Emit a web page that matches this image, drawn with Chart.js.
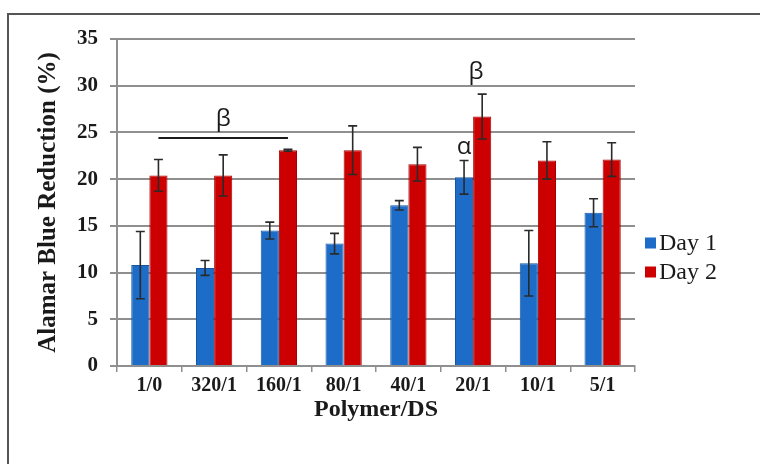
<!DOCTYPE html>
<html>
<head>
<meta charset="utf-8">
<script src="https://cdn.jsdelivr.net/npm/chart.js@4.4.1/dist/chart.umd.min.js"></script>
<style>
  html, body { margin: 0; padding: 0; background: #ffffff; }
  #wrap { width: 760px; height: 464px; position: relative; }
</style>
</head>
<body>
<div id="wrap"><canvas id="c" width="760" height="464"></canvas></div>
<script>
// Polymer/DS ratios tested
const categories = ['1/0', '320/1', '160/1', '80/1', '40/1', '20/1', '10/1', '5/1'];

// Alamar Blue reduction (%) per day, with standard deviations
const day1 = [10.8, 10.5, 14.5, 13.1, 17.2, 20.2, 11.0, 16.4];
const day1Err = [3.6, 0.8, 0.9, 1.1, 0.5, 1.8, 3.5, 1.5];
const day2 = [20.4, 20.4, 23.1, 23.1, 21.6, 26.7, 22.0, 22.1];
const day2Err = [1.7, 2.2, 0.1, 2.6, 1.8, 2.4, 2.0, 1.8];

const seriesNames = ['Day 1', 'Day 2'];
const seriesColors = ['#1c6cc8', '#cc0000'];
const seriesBorders = ['#1656a3', '#a80000'];

const yTicks = [0, 5, 10, 15, 20, 25, 30, 35];

// Significance marks: symbol, category index (or span), value
const betaSpan = { symbol: 'β', from: 0, to: 2, value: 24.4, textValue: 26.4 };
const marks = [
  { symbol: 'β', category: 5, series: -1, value: 31.5 },
  { symbol: 'α', category: 5, series: 0, value: 23.4 }
];

const serif = '"Liberation Serif", "Times New Roman", serif';
const sans = '"Open Sans", "Liberation Sans", sans-serif';
const gridGrey = '#8f8f8f';

const framePlugin = {
  id: 'frame',
  beforeDraw(chart) {
    const ctx = chart.ctx;
    ctx.save();
    ctx.fillStyle = '#ffffff';
    ctx.fillRect(0, 0, chart.width, chart.height);
    ctx.strokeStyle = '#555555';
    ctx.lineWidth = 2;
    ctx.beginPath();
    ctx.moveTo(8, chart.height);
    ctx.lineTo(8, 14);
    ctx.lineTo(chart.width, 14);
    ctx.stroke();
    ctx.restore();
  }
};

const errorBarPlugin = {
  id: 'errorBars',
  afterDatasetsDraw(chart) {
    const ctx = chart.ctx;
    const y = chart.scales.y;
    const errs = [day1Err, day2Err];
    ctx.save();
    ctx.strokeStyle = '#2a2a2a';
    ctx.lineWidth = 1.6;
    chart.data.datasets.forEach((ds, i) => {
      const meta = chart.getDatasetMeta(i);
      meta.data.forEach((bar, j) => {
        const v = ds.data[j];
        const e = errs[i][j];
        const top = y.getPixelForValue(v + e);
        const bot = y.getPixelForValue(v - e);
        const x = bar.x;
        ctx.beginPath();
        ctx.moveTo(x, top); ctx.lineTo(x, bot);
        ctx.moveTo(x - 4.5, top); ctx.lineTo(x + 4.5, top);
        ctx.moveTo(x - 4.5, bot); ctx.lineTo(x + 4.5, bot);
        ctx.stroke();
      });
    });
    ctx.restore();
  }
};

const marksPlugin = {
  id: 'marks',
  afterDatasetsDraw(chart) {
    const ctx = chart.ctx;
    const x = chart.scales.x;
    const y = chart.scales.y;
    const red = chart.getDatasetMeta(1).data;
    ctx.save();
    ctx.fillStyle = '#1a1a1a';
    ctx.strokeStyle = '#1a1a1a';
    ctx.font = '24px ' + sans;
    ctx.textAlign = 'center';
    ctx.textBaseline = 'middle';
    // bracket over the first group
    const x0 = red[betaSpan.from].x;
    const x1 = red[betaSpan.to].x;
    const ly = y.getPixelForValue(betaSpan.value);
    ctx.lineWidth = 2;
    ctx.beginPath();
    ctx.moveTo(x0, ly); ctx.lineTo(x1, ly);
    ctx.stroke();
    ctx.fillText(betaSpan.symbol, (x0 + x1) / 2, y.getPixelForValue(betaSpan.textValue));
    marks.forEach(m => {
      const px = m.series < 0 ? x.getPixelForValue(m.category) + 3
        : chart.getDatasetMeta(m.series).data[m.category].x;
      ctx.fillText(m.symbol, px, y.getPixelForValue(m.value));
    });
    ctx.restore();
  }
};

const legendPlugin = {
  id: 'sideLegend',
  afterDraw(chart) {
    const ctx = chart.ctx;
    const area = chart.chartArea;
    const cy = (area.top + area.bottom) / 2 + 55;
    ctx.save();
    ctx.font = '24px ' + serif;
    ctx.textBaseline = 'middle';
    ctx.textAlign = 'left';
    seriesNames.forEach((name, i) => {
      const yy = cy - 14.5 + i * 29;
      ctx.fillStyle = seriesColors[i];
      ctx.fillRect(645, yy - 5.5, 11, 11);
      ctx.fillStyle = '#1a1a1a';
      ctx.fillText(name, 659, yy + 1);
    });
    ctx.restore();
  }
};

new Chart(document.getElementById('c'), {
  type: 'bar',
  data: {
    labels: categories,
    datasets: [
      { label: seriesNames[0], data: day1, backgroundColor: seriesColors[0], borderColor: seriesBorders[0], borderWidth: 1 },
      { label: seriesNames[1], data: day2, backgroundColor: seriesColors[1], borderColor: seriesBorders[1], borderWidth: 1 }
    ]
  },
  options: {
    responsive: false,
    animation: false,
    devicePixelRatio: 1,
    datasets: { bar: { categoryPercentage: 0.56, barPercentage: 1.0 } },
    layout: { padding: { left: 28, top: 39, right: 125, bottom: 40 } },
    plugins: { legend: { display: false }, tooltip: { enabled: false } },
    scales: {
      x: {
        grid: { display: true, drawOnChartArea: false, offset: true, tickLength: 6, color: gridGrey, lineWidth: 1.5 },
        border: { display: true, color: gridGrey, width: 2 },
        ticks: { color: '#1a1a1a', font: { family: serif, size: 20, weight: 'bold' }, padding: 2, maxRotation: 0 },
        title: { display: true, text: 'Polymer/DS', color: '#1a1a1a', font: { family: serif, size: 24, weight: 'bold' }, padding: { top: 0, bottom: 0 } },
        afterFit(scale) { scale.height = 464 - 40 - 366; }
      },
      y: {
        min: 0, max: 35,
        afterBuildTicks(scale) { scale.ticks = yTicks.map(v => ({ value: v })); },
        grid: { color: gridGrey, lineWidth: 2, tickLength: 7 },
        border: { display: true, color: gridGrey, width: 2 },
        ticks: { color: '#1a1a1a', font: { family: serif, size: 21, weight: 'bold' }, padding: 12 },
        title: { display: true, text: 'Alamar Blue Reduction (%)', color: '#1a1a1a', font: { family: serif, size: 25, weight: 'bold' }, padding: { top: 6, bottom: 0 } },
        afterFit(scale) { scale.width = 117 - 28; }
      }
    }
  },
  plugins: [framePlugin, errorBarPlugin, marksPlugin, legendPlugin]
});
</script>
</body>
</html>
